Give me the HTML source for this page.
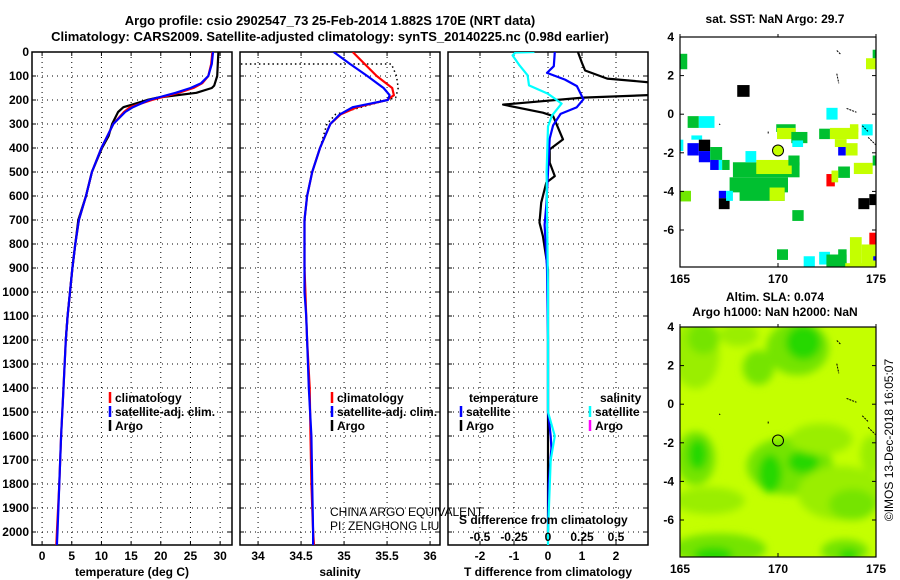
<!DOCTYPE html>
<html><head><meta charset="utf-8"><style>
html,body{margin:0;padding:0;background:#fff}
svg{display:block;font-family:"Liberation Sans",sans-serif}
.b{font-weight:bold;font-size:12px}
</style></head><body>
<svg id="fig" width="900" height="580" viewBox="0 0 900 580" xmlns="http://www.w3.org/2000/svg">
<defs>
<clipPath id="c1"><rect x="32" y="52" width="200" height="493"/></clipPath>
<clipPath id="c2"><rect x="240" y="52" width="200" height="493"/></clipPath>
<clipPath id="c3"><rect x="448" y="52" width="200" height="493"/></clipPath>
<clipPath id="cm1"><rect x="680" y="37" width="196" height="230"/></clipPath>
<clipPath id="cm2"><rect x="680" y="327" width="196" height="230"/></clipPath>
<filter id="bl" x="-50%" y="-50%" width="200%" height="200%"><feGaussianBlur stdDeviation="4"/></filter>
</defs>
<text x="330" y="25" text-anchor="middle" font-size="13" font-weight="bold">Argo profile: csio 2902547_73 25-Feb-2014 1.882S 170E (NRT data)</text>
<text x="330" y="41" text-anchor="middle" font-size="13" font-weight="bold">Climatology: CARS2009. Satellite-adjusted climatology: synTS_20140225.nc (0.98d earlier)</text>
<g id="g1"></g>
<g id="g2"></g>
<g id="g3"></g>
<g id="m1"></g>
<g id="m2"></g>
<text transform="translate(893,440) rotate(-90)" text-anchor="middle" font-size="12">©IMOS 13-Dec-2018 16:05:07</text>
</svg>
<script>
// ---------- data ----------
const depthTicks=[0,100,200,300,400,500,600,700,800,900,1000,1100,1200,1300,1400,1500,1600,1700,1800,1900,2000];
const tempTicks=[0,5,10,15,20,25,30];
const salTicks=[34,34.5,35,35.5,36];
const salTickLabels=['34','34.5','35','35.5','36'];
const tdiffTicks=[-2,-1,0,1,2];
const sdiffTicks=[-0.5,-0.25,0,0.25,0.5];
const sdiffTickLabels=['-0.5','-0.25','0','0.25','0.5'];

const tClimDepth=[0,50,100,130,150,170,200,230,250,300,350,400,500,600,700,800,900,1000,1100,1200,1400,1600,1800,2000,2055];
const tClim=[28.7,28.5,28.0,27.0,25.5,23.0,18.5,14.8,13.8,12.0,11.0,10.0,8.4,7.4,6.2,5.6,5.1,4.7,4.3,4.0,3.6,3.2,2.9,2.5,2.4];
const tSat=[28.8,28.6,28.0,26.8,25.0,22.5,18.0,15.3,14.0,12.0,11.0,10.0,8.4,7.4,6.2,5.6,5.1,4.7,4.3,4.0,3.6,3.2,2.9,2.6,2.5];
const tArgoDepth=[0,50,100,140,150,170,190,200,230,250,300,350,400,500,600,700,800,900,1000,1100,1200];
const tArgo=[29.7,29.6,29.5,29.0,28.6,26.0,19.5,17.7,13.7,12.8,11.8,11.2,10.1,8.4,7.4,6.1,5.6,5.1,4.7,4.3,4.0];

const sDepth=[0,50,100,150,180,200,230,260,300,350,400,500,600,700,800,900,1000,1100,1200,1400,1600,1800,2000,2055];
const sClim=[35.1,35.24,35.38,35.56,35.58,35.5,35.15,34.96,34.84,34.78,34.72,34.63,34.57,34.54,34.54,34.54,34.55,34.56,34.57,34.6,34.61,34.62,34.64,34.65];
const sSat=[34.88,35.07,35.27,35.46,35.53,35.51,35.1,34.95,34.84,34.78,34.72,34.63,34.57,34.54,34.54,34.54,34.54,34.56,34.57,34.59,34.62,34.63,34.64,34.64];
const sArgoDepth=[50,50,100,150,190,220,260,300,350,400];
const sArgo=[33.8,35.55,35.61,35.63,35.6,35.3,34.9,34.8,34.76,34.72];

const dTArgoDepth=[0,46,77,111,139,174,190,219,253,267,364,406,461,517,544,628,711,767,906,1100,1400,1700,2000];
const dTArgo=[0.88,1.0,1.09,1.74,4.0,4.0,1.03,-1.32,-0.15,0.15,0.44,0.05,0.05,0.2,-0.05,-0.2,-0.25,-0.15,0,0,0,0,0];
const dTSatDepth=[0,59,87,115,142,197,231,258,306,361,500,639,720,900,1200,1500,1600,1650,1800,2000];
const dTSat=[0.2,0.17,-0.03,0.5,0.85,1.04,0.84,0.37,0.15,0.05,0,-0.05,-0.1,-0.03,0,0,0.08,0.1,0.02,0];
const dSSatDepth=[0,2,14,55,97,139,174,194,215,264,310,500,1000,1500,1600,1700,2000,2055];
const dSSat=[-0.1,-0.24,-0.26,-0.21,-0.15,-0.14,0,0.05,0.1,0.03,0,-0.01,0,0,0.05,0.02,0,0];

// SST cells: [lonW, latN, lonE, latS, colour]
const sstCells=[
[165,3.13,165.37,2.33,'g'],[165.39,-0.1,165.96,-0.71,'g'],[165.96,-0.1,166.76,-0.71,'c'],
[164.97,-1.32,165.17,-1.91,'c'],[165.58,-1.1,166.13,-1.32,'c'],[165.38,-1.5,165.96,-2.14,'b'],
[165.96,-1.32,166.54,-1.91,'k'],[165.96,-1.91,166.54,-2.49,'b'],[166.54,-1.91,166.76,-2.37,'c'],
[166.54,-1.7,167.15,-2.37,'g'],[166.54,-2.37,166.98,-2.89,'b'],[166.98,-2.37,167.15,-2.89,'c'],
[167.15,-2.37,167.53,-2.89,'g'],[167.92,1.51,168.55,0.9,'k'],
[167.7,-2.49,171.1,-3.27,'g'],[168.89,-2.37,170.7,-3.1,'y'],[167.53,-3.27,170.51,-4.05,'g'],
[168.04,-3.97,170.34,-4.49,'g'],[169.57,-3.8,170.34,-4.49,'y'],[168.34,-1.91,168.89,-2.49,'c'],
[169.91,-0.52,170.9,-0.92,'g'],[169.95,-0.71,170.9,-1.29,'y'],[170.68,-0.92,171.5,-1.5,'g'],
[170.73,-1.36,171.28,-1.7,'c'],[170.53,-2.14,171.1,-2.66,'g'],
[164.97,-3.97,165.56,-4.52,'l'],[166.98,-4.35,167.53,-4.92,'k'],[166.98,-3.97,167.35,-4.35,'b'],
[167.35,-3.97,167.7,-4.49,'c'],[170.73,-4.97,171.31,-5.53,'g'],[169.95,-7.0,170.51,-7.55,'g'],
[172.1,-0.75,172.65,-1.29,'g'],[172.65,-0.71,174.1,-1.29,'y'],[173.67,-0.52,174.1,-0.92,'y'],
[172.9,-1.29,173.5,-1.7,'y'],[173.07,-1.7,173.46,-2.14,'b'],[173.46,-1.5,174.06,-2.14,'y'],
[172.47,0.33,173.04,-0.28,'c'],[174.27,-0.52,174.83,-1.1,'c'],
[173.07,-2.71,173.67,-3.3,'g'],[172.47,-3.1,172.9,-3.74,'r'],[172.73,-2.92,173.07,-3.53,'y'],
[173.87,-2.52,174.83,-3.1,'y'],[174.83,-2.14,175.03,-2.66,'g'],[174.1,-4.35,174.66,-4.92,'k'],
[174.66,-4.14,175.07,-4.71,'k'],[174.49,2.9,175.03,2.33,'y'],[174.83,3.34,175.03,2.9,'g'],
[173.67,-6.37,174.27,-7.97,'y'],[174.27,-6.75,175.03,-7.97,'y'],[174.66,-6.14,175.03,-6.75,'r'],
[174.86,-7.36,175.03,-7.58,'b'],[171.31,-7.36,171.88,-7.97,'c'],[172.1,-7.13,172.65,-7.79,'c'],
[172.47,-7.27,173.5,-7.97,'g'],[173.07,-7.0,173.5,-7.79,'g'],[173.43,-7.72,174.83,-7.97,'y']];
// SLA anomaly blobs: [lon, lat, rx(deg), ry(deg), colour]
const slaBlobs=[
[165.8,2.6,1.2,1.8,'l'],[166.2,3.4,0.8,0.8,'m'],[168.0,3.6,1.0,0.6,'l'],
[171.0,2.9,1.6,1.4,'m'],[171.3,3.2,0.9,0.9,'d'],[169.0,1.9,0.8,0.9,'m'],
[165.8,-2.8,1.0,1.4,'m'],[165.9,-2.6,0.5,0.8,'d'],
[170.6,-3.2,2.2,1.5,'m'],[169.6,-3.6,0.6,1.0,'d'],[171.3,-3.0,0.8,0.6,'d'],
[173.2,-4.6,2.2,1.4,'l'],[173.8,-5.2,1.2,0.8,'m'],[166.5,-5.0,1.8,0.7,'l'],
[167.0,-7.5,2.4,0.8,'m'],[166.7,-7.8,1.0,0.4,'d'],[173.4,-7.6,1.2,0.6,'m'],[173.6,-7.8,0.5,0.3,'d'],
[172.2,-1.8,1.6,0.8,'l'],[174.8,-2.6,0.6,1.0,'l']];

// ---------- helpers ----------
const NS='http://www.w3.org/2000/svg';
function el(tag,parent,attrs){const e=document.createElementNS(NS,tag);for(const k in attrs)e.setAttribute(k,attrs[k]);parent.appendChild(e);return e;}
const yD=d=>52+d*0.24;
const xT=v=>32+(v+1.7)*200/33.7;
const xS=v=>240+(v-33.79)*86;
const xDT=v=>548+v*34;
const xDS=v=>548+v*136;
const PB=545;

function frame(g,x0,ticksX,fx,labelsX,title,clipId){
  for(const d of depthTicks){
    const ln=el('line',g,{x1:x0,x2:x0+200,y1:yD(d),y2:yD(d),stroke:'#000','stroke-width':1,'stroke-dasharray':'1 4'});
    
    
    el('line',g,{x1:x0,x2:x0+4,y1:yD(d),y2:yD(d),stroke:'#000'});
    el('line',g,{x1:x0+196,x2:x0+200,y1:yD(d),y2:yD(d),stroke:'#000'});
  }
  ticksX.forEach((t,i)=>{
    const x=fx(t);
    const ln=el('line',g,{x1:x,x2:x,y1:52,y2:PB,stroke:'#000','stroke-width':1,'stroke-dasharray':'1 4'});
    
    
    el('line',g,{x1:x,x2:x,y1:PB-4,y2:PB,stroke:'#000'});
    el('line',g,{x1:x,x2:x,y1:52,y2:56,stroke:'#000'});
    if(labelsX){const tx=el('text',g,{x:x,y:560,'text-anchor':'middle','class':'b'});tx.textContent=labelsX[i];
      
      }
  });
  const r=el('rect',g,{x:x0,y:52,width:200,height:PB-52,fill:'none',stroke:'#000','stroke-width':1.5});
  
  
  const tt=el('text',g,{x:x0+100,y:576,'text-anchor':'middle','class':'b'});tt.textContent=title;
  
  
}
function line(g,xs,ds,fx,color,w,name,clip,dash){
  const pts=xs.map((v,i)=>fx(v).toFixed(1)+','+yD(ds[i]).toFixed(1)).join(' ');
  const a={points:pts,fill:'none',stroke:color,'stroke-width':w,'clip-path':'url(#'+clip+')','stroke-linejoin':'round'};
  if(dash)a['stroke-dasharray']=dash;
  const p=el('polyline',g,a);
  
  
}
function legend(g,x,y,color,label,name){
  el('line',g,{x1:x,x2:x,y1:y-10,y2:y+1,stroke:color,'stroke-width':2.5});
  const t=el('text',g,{x:x+5,y:y,'class':'b'});t.textContent=label;
  
  
}

// ---------- panel 1 ----------
const g1=document.getElementById('g1');
frame(g1,32,tempTicks,xT,tempTicks.map(String),'temperature (deg C)','c1');
for(const d of depthTicks){const t=el('text',g1,{x:29,y:yD(d)+4,'text-anchor':'end','class':'b'});t.textContent=d;
  
  }
line(g1,tArgo,tArgoDepth,xT,'#000',2.2,'temperature-argo-line','c1');
line(g1,tClim,tClimDepth,xT,'#f00',2.2,'temperature-climatology-line','c1');
line(g1,tSat,tClimDepth,xT,'#00f',2.2,'temperature-satellite-line','c1');
legend(g1,110,402,'#f00','climatology','legend-climatology');
legend(g1,110,416,'#00f','satellite-adj. clim.','legend-satellite');
legend(g1,110,430,'#000','Argo','legend-argo');

// ---------- panel 2 ----------
const g2=document.getElementById('g2');
frame(g2,240,salTicks,xS,salTickLabels,'salinity','c2');
line(g2,sArgo,sArgoDepth,xS,'#000',1.5,'salinity-argo-line','c2','1.5 3');
line(g2,sClim,sDepth,xS,'#f00',2.2,'salinity-climatology-line','c2');
line(g2,sSat,sDepth,xS,'#00f',2.2,'salinity-satellite-line','c2');
legend(g2,332,402,'#f00','climatology','legend-climatology');
legend(g2,332,416,'#00f','satellite-adj. clim.','legend-satellite');
legend(g2,332,430,'#000','Argo','legend-argo');
const ca=el('text',g2,{x:330,y:516,'font-size':12});ca.textContent='CHINA ARGO EQUIVALENT';


const pi=el('text',g2,{x:330,y:530,'font-size':12});pi.textContent='PI: ZENGHONG LIU';



// ---------- panel 3 ----------
const g3=document.getElementById('g3');
frame(g3,448,tdiffTicks,xDT,tdiffTicks.map(String),'T difference from climatology','c3');
line(g3,dTArgo,dTArgoDepth,xDT,'#000',2.2,'tdiff-argo-line','c3');
line(g3,dTSat,dTSatDepth,xDT,'#00f',2.2,'tdiff-satellite-line','c3');
line(g3,dSSat,dSSatDepth,xDS,'#0ff',2.2,'sdiff-satellite-line','c3');
const tl=el('text',g3,{x:469,y:402,'class':'b'});tl.textContent='temperature';


const sl=el('text',g3,{x:600,y:402,'class':'b'});sl.textContent='salinity';


legend(g3,461,416,'#00f','satellite','legend-t-satellite');
legend(g3,461,430,'#000','Argo','legend-t-argo');
legend(g3,590,416,'#0ff','satellite','legend-s-satellite');
legend(g3,590,430,'#f0f','Argo','legend-s-argo');
const sdt=el('text',g3,{x:459,y:524,'class':'b'});sdt.textContent='S difference from climatology';


sdiffTicks.forEach((t,i)=>{const tx=el('text',g3,{x:xDS(t),y:541,'text-anchor':'middle','class':'b'});tx.textContent=sdiffTickLabels[i];
  
  });

// ---------- maps ----------
const mx=lon=>680+(lon-165)*19.6;
function mapFrame(g,top){
  const my=lat=>top+(4-lat)*19.3;
  [4,2,0,-2,-4,-6].forEach(l=>{const t=el('text',g,{x:674,y:my(l)+4,'text-anchor':'end','class':'b'});t.textContent=l;
    
    
    el('line',g,{x1:680,x2:684,y1:my(l),y2:my(l),stroke:'#000'});el('line',g,{x1:872,x2:876,y1:my(l),y2:my(l),stroke:'#000'});});
  [165,170,175].forEach(l=>{const t=el('text',g,{x:mx(l),y:top+246,'text-anchor':'middle','class':'b'});t.textContent=l;
    
    
    el('line',g,{x1:mx(l),x2:mx(l),y1:top+226,y2:top+230,stroke:'#000'});el('line',g,{x1:mx(l),x2:mx(l),y1:top-3,y2:top,stroke:'#000'});});
  const r=el('rect',g,{x:680,y:top,width:196,height:230,fill:'none',stroke:'#000','stroke-width':1.2});
  
  
  const isl=[[173,3.3,173.2,3.1],[173,2.1,173.1,1.6],[173.5,0.3,174,0.1],[174.3,-0.6,174.6,-0.9],[174.6,-1.2,175,-1.6],[167,-0.5,167.05,-0.55],[169.5,-0.9,169.5,-1.0]];
  isl.forEach(s=>{el('line',g,{x1:mx(s[0]),y1:my(s[1]),x2:mx(s[2]),y2:my(s[3]),stroke:'#000','stroke-width':1,'stroke-dasharray':'2 1'});});
  const c=el('circle',g,{cx:mx(170),cy:my(-1.882),r:5.5,fill:'none',stroke:'#000','stroke-width':1});
  
  
  return {my,c};
}
const SST_COL={g:'#00c030',c:'#00ffff',b:'#0000ff',k:'#000000',y:'#c4ff00',l:'#70e800',r:'#ff0000'};
const m1=document.getElementById('m1');
const mt1=el('text',m1,{x:775,y:23,'text-anchor':'middle','class':'b'});mt1.textContent='sat. SST: NaN Argo: 29.7';


const my1=lat=>37+(4-lat)*19.3;
const cg=el('g',m1,{'clip-path':'url(#cm1)'});
sstCells.forEach(c=>{const r=el('rect',cg,{x:mx(c[0]),y:my1(c[1]),width:mx(c[2])-mx(c[0]),height:my1(c[3])-my1(c[1]),fill:SST_COL[c[4]]});
  
  });
const f1=mapFrame(m1,37);f1.c.setAttribute('fill','#c4ff00');

const SLA_COL={m:'#74e400',d:'#28d800',l:'#9aee00'};
const m2=document.getElementById('m2');
const mt2=el('text',m2,{x:775,y:301,'text-anchor':'middle','class':'b'});mt2.textContent='Altim. SLA: 0.074';


const mt3=el('text',m2,{x:775,y:316,'text-anchor':'middle','class':'b'});mt3.textContent='Argo h1000: NaN h2000: NaN';


const my2=lat=>327+(4-lat)*19.3;
const cg2=el('g',m2,{'clip-path':'url(#cm2)'});
el('rect',cg2,{x:680,y:327,width:196,height:230,fill:'#c4ff00'});
const bg=el('g',cg2,{filter:'url(#bl)'});
slaBlobs.forEach(b=>{const e=el('ellipse',bg,{cx:mx(b[0]),cy:my2(b[1]),rx:b[2]*19.6,ry:b[3]*19.3,fill:SLA_COL[b[4]]});
  
  });
mapFrame(m2,327);
</script>
</body></html>
